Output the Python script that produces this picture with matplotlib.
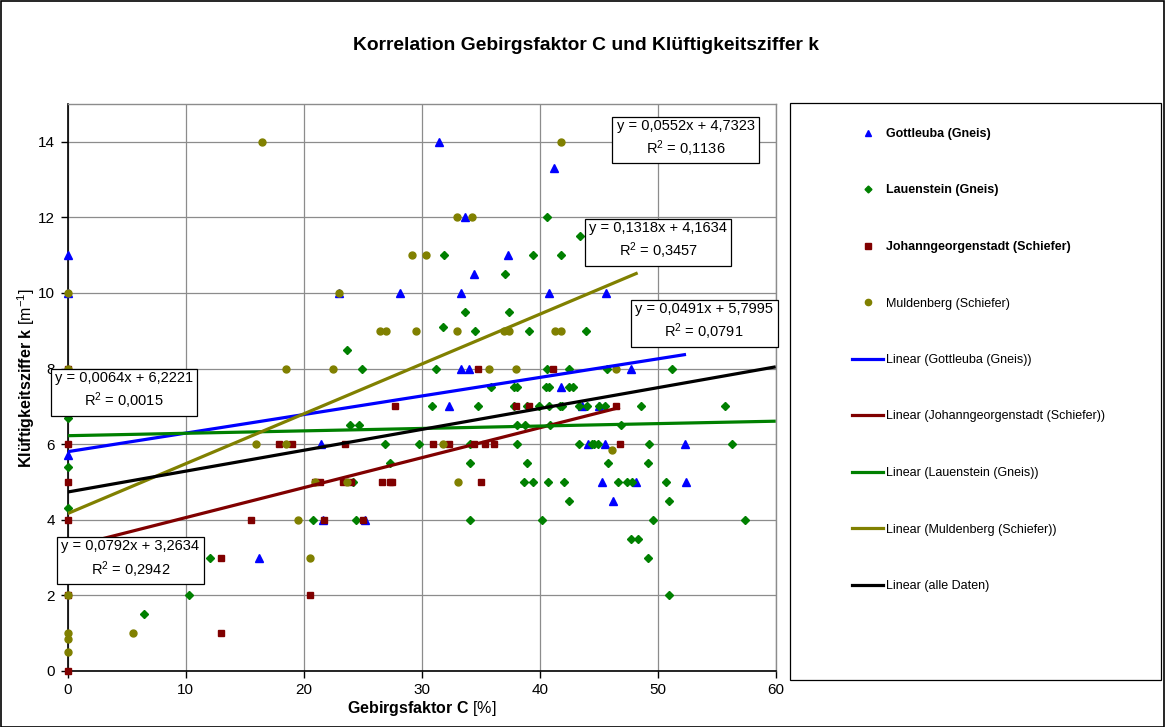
import matplotlib
matplotlib.use("Agg")
import matplotlib.pyplot as plt
from matplotlib.lines import Line2D
from matplotlib.patches import Rectangle
import numpy as np

plt.rcParams['font.family'] = ['Liberation Sans', 'DejaVu Sans']
plt.rcParams['mathtext.fontset'] = 'custom'
plt.rcParams['mathtext.rm'] = 'Liberation Sans'
plt.rcParams['mathtext.it'] = 'Liberation Sans:italic'
plt.rcParams['mathtext.bf'] = 'Liberation Sans:bold'

# ---------------- data ----------------
gott_x = [0, 0, 0, 16.2, 21.5, 21.6, 25.2, 23.0, 28.2, 31.5, 33.3, 33.7, 34.4, 37.3, 33.3, 34.0,
          32.3, 40.8, 41.2, 45.6, 47.7, 41.8, 43.6, 45.0, 44.1, 45.5, 52.3, 45.3, 48.2, 52.4, 46.2]
gott_y = [11, 10, 5.7, 3, 6, 4, 4, 10, 10, 14, 10, 12, 10.5, 11, 8, 8,
          7, 10, 13.3, 10, 8, 7.5, 7, 7, 6, 6, 6, 5, 5, 5, 4.5]

lauen_x = [0, 0, 0, 6.5, 10.3, 12.1,
           23.7, 24.9, 31.2, 31.9, 31.8, 33.7, 34.5, 37.1, 37.4, 39.1, 40.6, 43.4, 39.4, 41.8, 43.9,
           40.6, 42.5, 45.7, 51.2,
           35.9, 37.8, 38.1, 40.5, 40.8, 42.5, 42.85,
           30.9, 34.8, 37.8, 38.9, 39.9, 40.8, 41.7, 41.9, 43.3, 44.0, 45.0, 45.5, 48.6, 55.7,
           23.9, 24.7, 38.1, 38.75, 40.9, 46.9,
           26.9, 29.8, 34.1, 38.1, 43.3, 44.4, 44.6, 44.9, 49.3, 56.3,
           27.3, 34.1, 38.9, 45.8, 49.2,
           24.2, 38.7, 39.4, 40.7, 42.1, 46.6, 47.4, 47.85, 50.7,
           42.5, 51.0,
           20.8, 24.4, 34.1, 40.2, 49.6, 57.4,
           47.7, 48.3, 49.2, 51.0]
lauen_y = [6.7, 5.4, 4.3, 1.5, 2, 3,
           8.5, 8, 8, 11, 9.1, 9.5, 9, 10.5, 9.5, 9, 12, 11.5, 11, 11, 9,
           8, 8, 8, 8,
           7.5, 7.5, 7.5, 7.5, 7.5, 7.5, 7.5,
           7, 7, 7, 7, 7, 7, 7, 7, 7, 7, 7, 7, 7, 7,
           6.5, 6.5, 6.5, 6.5, 6.5, 6.5,
           6, 6, 6, 6, 6, 6, 6, 6, 6, 6,
           5.5, 5.5, 5.5, 5.5, 5.5,
           5, 5, 5, 5, 5, 5, 5, 5, 5,
           4.5, 4.5,
           4, 4, 4, 4, 4, 4,
           3.5, 3.5, 3, 2]

johann_x = [0, 0, 0, 0, 0, 0, 13, 13, 15.5, 17.9, 19.0, 23.5, 31.0, 32.3, 34.4, 35.4, 36.1, 46.8,
            27.7, 37.96, 39.1, 46.5, 34.8, 41.1, 21.0, 21.4, 23.3, 24.0, 26.6, 27.3, 27.5, 35.0,
            21.7, 25.0, 20.5]
johann_y = [8, 6, 5, 4, 2, 0, 3, 1, 4, 6, 6, 6, 6, 6, 6, 6, 6, 6,
            7, 7, 7, 7, 8, 8, 5, 5, 5, 5, 5, 5, 5, 5,
            4, 4, 2]

mulden_x = [0, 0, 0, 0, 0, 0, 5.5, 16.5, 18.5, 16.0, 18.5, 33.0, 34.3, 29.2, 30.4, 23.0, 26.5, 27.0,
            29.5, 33.0, 37.0, 37.4, 41.3, 41.8, 22.5, 35.7, 38.0, 46.5, 41.8, 31.8, 21.0, 23.7,
            33.1, 19.5, 20.5, 46.1]
mulden_y = [10, 8, 2, 1, 0.85, 0.5, 1, 14, 8, 6, 6, 12, 12, 11, 11, 10, 9, 9,
            9, 9, 9, 9, 9, 9, 8, 8, 8, 8, 14, 6, 5, 5,
            5, 4, 3, 5.85]

series_names = ["Gottleuba (Gneis)", "Lauenstein (Gneis)",
                "Johanngeorgenstadt (Schiefer)", "Muldenberg (Schiefer)"]

# trend lines: (label, slope, intercept, x_end, R2)
trend_labels = ["Linear (Gottleuba (Gneis))", "Linear (Johanngeorgenstadt (Schiefer))",
                "Linear (Lauenstein (Gneis))", "Linear (Muldenberg (Schiefer))",
                "Linear (alle Daten)"]
trend_slope = [0.0491, 0.0792, 0.0064, 0.1318, 0.0552]
trend_icept = [5.7995, 3.2634, 6.2221, 4.1634, 4.7323]
trend_xmax = [52.4, 46.8, 60, 48.3, 60]
trend_r2 = [0.0791, 0.2942, 0.0015, 0.3457, 0.1136]

x_ticks = [0, 10, 20, 30, 40, 50, 60]
y_ticks = [0, 2, 4, 6, 8, 10, 12, 14]

# ---------------- style ----------------
c_blue, c_green, c_red, c_olive = '#0000FF', '#008000', '#800000', '#808000'
trend_colors = [c_blue, c_red, c_green, c_olive, '#000000']
# annotation box centers (axes fraction), order as trend lists
ann_pos = [(0.899, 0.615), (0.0884, 0.1965), (0.0795, 0.493), (0.834, 0.758), (0.873, 0.938)]

W, H = 1166, 727
fig = plt.figure(figsize=(W / 100, H / 100), dpi=100)
ax = fig.add_axes([67.7 / W, (H - 670.9) / H, 708 / W, 567 / H])

ax.set_xlim(0, 60)
ax.set_ylim(0, 15)
ax.set_xticks(x_ticks)
ax.set_yticks(y_ticks)
ax.tick_params(axis='both', direction='out', length=5, width=1, labelsize=11, pad=4, color='black')
ax.grid(True, color='#8c8c8c', linewidth=0.9)
ax.set_axisbelow(True)
for s in ['top', 'right']:
    ax.spines[s].set_color('#8c8c8c')
    ax.spines[s].set_linewidth(1)
for s in ['left', 'bottom']:
    ax.spines[s].set_color('black')
    ax.spines[s].set_linewidth(1.2)

ax.plot(gott_x, gott_y, linestyle='none', marker='^', color=c_blue, ms=5.3, clip_on=False, zorder=3)
ax.plot(lauen_x, lauen_y, linestyle='none', marker='D', color=c_green, ms=4, clip_on=False, zorder=3)
ax.plot(johann_x, johann_y, linestyle='none', marker='s', color=c_red, ms=5, clip_on=False, zorder=3)
ax.plot(mulden_x, mulden_y, linestyle='none', marker='o', color=c_olive, ms=5, clip_on=False, zorder=3)

for i in range(len(trend_labels)):
    xs = np.array([0.0, trend_xmax[i]])
    ys = trend_slope[i] * xs + trend_icept[i]
    ax.plot(xs, ys, color=trend_colors[i], lw=2.3, zorder=4, solid_capstyle='butt')
    txt = ("y = " + f"{trend_slope[i]:.4f}".replace('.', ',') + "x + "
           + f"{trend_icept[i]:.4f}".replace('.', ',') + "\n" + r"R$^2$ = "
           + f"{trend_r2[i]:.4f}".replace('.', ','))
    ax.text(ann_pos[i][0], ann_pos[i][1], txt, transform=ax.transAxes, ha='center', va='center',
            fontsize=10.5, linespacing=1.35, zorder=6,
            bbox=dict(boxstyle='square,pad=0.3', fc='white', ec='black', lw=0.9))

ax.set_xlabel(r"$\mathbf{Gebirgsfaktor\ C}$ [%]", fontsize=11.5)
ax.xaxis.set_label_coords(0.5, -0.05)
ax.set_ylabel(r"$\mathbf{Klüftigkeitsziffer\ k}$ [m$^{-1}$]", fontsize=11.5)
ax.yaxis.set_label_coords(-0.043, 0.516)

fig.text(0.503, 1 - 45 / H, "Korrelation Gebirgsfaktor C und Klüftigkeitsziffer k",
         ha='center', va='center', fontsize=13.9, fontweight='bold')

# legend
handles = [
    Line2D([], [], linestyle='none', marker='^', color=c_blue, ms=4.5),
    Line2D([], [], linestyle='none', marker='D', color=c_green, ms=3.5),
    Line2D([], [], linestyle='none', marker='s', color=c_red, ms=4.5),
    Line2D([], [], linestyle='none', marker='o', color=c_olive, ms=4.5),
] + [Line2D([], [], color=c, lw=2.3) for c in trend_colors]
labels = series_names + trend_labels
leg = fig.legend(handles, labels, loc='upper left', bbox_to_anchor=(852 / W, 1 - 128 / H),
                 frameon=False, fontsize=9, handlelength=2.48, handletextpad=0.24,
                 labelspacing=3.56, borderaxespad=0, borderpad=0)
for t in leg.get_texts()[:3]:
    t.set_fontweight('bold')

fig.patches.append(Rectangle((790 / W, 1 - 680 / H), 371 / W, 577 / H, transform=fig.transFigure,
                             fill=False, edgecolor='black', lw=0.9))
fig.patches.append(Rectangle((0.0005, 0.0005), 0.998, 0.998, transform=fig.transFigure,
                             fill=False, edgecolor='black', lw=1.2))

fig.savefig("out.png", dpi=100)
